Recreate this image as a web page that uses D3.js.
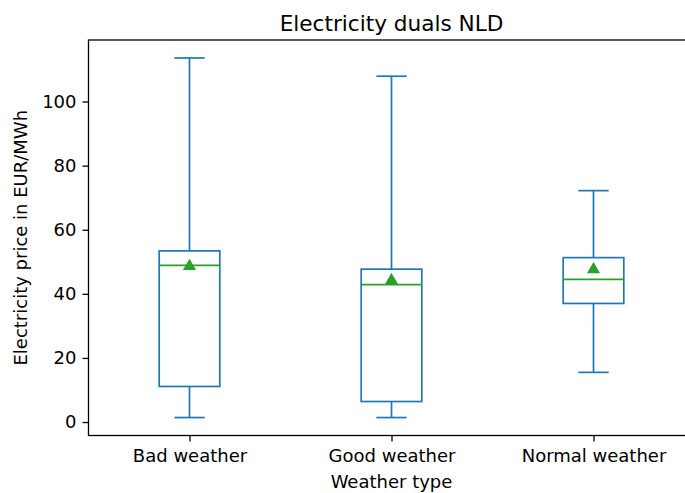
<!DOCTYPE html>
<html lang="en">
<head>
    <meta charset="UTF-8">
    <title>Electricity duals NLD</title>
    <script src="https://d3js.org/d3.v7.min.js"></script>
    <style>
        body { margin: 0; background: #fff; }
        svg { display: block; }
        text { font-family: "DejaVu Sans", sans-serif; fill: #000; }
    </style>
</head>
<body>
    <svg width="685" height="493"></svg>
    <script>
// Box statistics per weather type
const categories = ["Bad weather", "Good weather", "Normal weather"];
const whiskerLow = [1.4, 1.4, 15.5];
const q1 = [11.1, 6.4, 37.0];
const median = [48.9, 42.9, 44.5];
const q3 = [53.4, 47.7, 51.3];
const whiskerHigh = [113.6, 107.9, 72.2];
const means = [48.9, 44.5, 47.9];
const yTicks = [0, 20, 40, 60, 80, 100];

const boxColor = "#1f77b4";
const greenColor = "#2ca02c";

const svg = d3.select("svg");
const plotLeft = 88.5, plotRight = 694.5, plotTop = 40, plotBottom = 435.5;

const x = d3.scaleLinear().domain([0.5, 3.5]).range([plotLeft, plotRight]);
const y = d3.scaleLinear().domain([-4.2, 119.2]).range([plotBottom, plotTop]);

const boxW = 0.3;   // in data units, like matplotlib's default
const capW = 0.15;

const data = categories.map((c, i) => ({
    name: c, pos: i + 1,
    lo: whiskerLow[i], q1: q1[i], med: median[i], q3: q3[i], hi: whiskerHigh[i], mean: means[i]
}));

const g = svg.append("g");

// whiskers
g.selectAll(".whisker-lo").data(data).enter().append("line")
    .attr("x1", d => x(d.pos)).attr("x2", d => x(d.pos))
    .attr("y1", d => y(d.q1)).attr("y2", d => y(d.lo))
    .style("stroke", boxColor).style("stroke-width", 1.7);
g.selectAll(".whisker-hi").data(data).enter().append("line")
    .attr("x1", d => x(d.pos)).attr("x2", d => x(d.pos))
    .attr("y1", d => y(d.q3)).attr("y2", d => y(d.hi))
    .style("stroke", boxColor).style("stroke-width", 1.7);

// caps
["lo", "hi"].forEach(k => {
    g.selectAll(".cap-" + k).data(data).enter().append("line")
        .attr("x1", d => x(d.pos - capW / 2)).attr("x2", d => x(d.pos + capW / 2))
        .attr("y1", d => y(d[k])).attr("y2", d => y(d[k]))
        .style("stroke", boxColor).style("stroke-width", 1.7);
});

// boxes
g.selectAll(".box").data(data).enter().append("rect")
    .attr("x", d => x(d.pos - boxW / 2))
    .attr("width", d => x(d.pos + boxW / 2) - x(d.pos - boxW / 2))
    .attr("y", d => y(d.q3))
    .attr("height", d => y(d.q1) - y(d.q3))
    .style("fill", "none").style("stroke", boxColor).style("stroke-width", 1.7);

// medians
g.selectAll(".median").data(data).enter().append("line")
    .attr("x1", d => x(d.pos - boxW / 2)).attr("x2", d => x(d.pos + boxW / 2))
    .attr("y1", d => y(d.med)).attr("y2", d => y(d.med))
    .style("stroke", greenColor).style("stroke-width", 1.7);

// means as triangles
const tri = d3.symbol().type(d3.symbolTriangle).size(48);
g.selectAll(".mean").data(data).enter().append("path")
    .attr("d", tri)
    .attr("transform", d => `translate(${x(d.pos)},${y(d.mean) + 1})`)
    .style("fill", greenColor).style("stroke", greenColor).style("stroke-width", 1.5);

// axes
const yAxis = svg.append("g")
    .attr("transform", `translate(${plotLeft},0)`)
    .call(d3.axisLeft(y).tickValues(yTicks).tickSize(6).tickPadding(6).tickFormat(d3.format("d")));
yAxis.select(".domain").remove();
yAxis.selectAll(".tick line").style("stroke", "#000").style("stroke-width", 1.3);
yAxis.selectAll(".tick text").style("font-size", "18px");

const xAxis = svg.append("g")
    .attr("transform", `translate(0,${plotBottom})`)
    .call(d3.axisBottom(x).tickValues([1, 2, 3]).tickSize(6).tickPadding(7.5).tickFormat(d => categories[d - 1]));
xAxis.select(".domain").remove();
xAxis.selectAll(".tick line").style("stroke", "#000").style("stroke-width", 1.3);
xAxis.selectAll(".tick text").style("font-size", "18px");

// spines (right one falls outside the picture)
svg.append("rect")
    .attr("x", plotLeft).attr("y", plotTop)
    .attr("width", plotRight - plotLeft).attr("height", plotBottom - plotTop)
    .style("fill", "none").style("stroke", "#000").style("stroke-width", 1.3);

// title and labels
svg.append("text")
    .attr("x", (plotLeft + plotRight) / 2).attr("y", 30.5)
    .attr("text-anchor", "middle")
    .style("font-size", "21.6px")
    .text("Electricity duals NLD");

svg.append("text")
    .attr("x", (plotLeft + plotRight) / 2).attr("y", 488)
    .attr("text-anchor", "middle")
    .style("font-size", "18px")
    .text("Weather type");

svg.append("text")
    .attr("transform", `translate(27,${(plotTop + plotBottom) / 2}) rotate(-90)`)
    .attr("text-anchor", "middle")
    .style("font-size", "18px")
    .text("Electricity price in EUR/MWh");
    </script>
</body>
</html>
